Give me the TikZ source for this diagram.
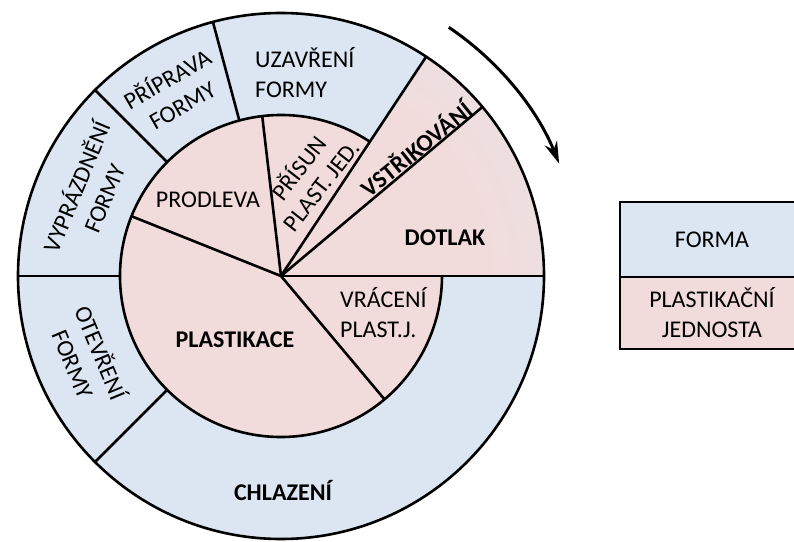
\documentclass[tikz,border=0pt]{standalone}
\usepackage{fontspec}
\setmainfont{Carlito}
\usetikzlibrary{arrows.meta}
\definecolor{formblue}{HTML}{DCE6F2}
\definecolor{plastpink}{HTML}{F2DCDB}
\pgfdeclareradialshading{wedgeshade}{\pgfpoint{0bp}{0bp}}{color(0bp)=(plastpink); color(19bp)=(plastpink); color(44bp)=(formblue); color(50bp)=(formblue)}

\begin{document}
\begin{tikzpicture}[x=1pt, y=1pt,
    lbl/.style={font=\fontsize{24}{30}\selectfont, align=center, inner sep=0pt},
    boldlbl/.style={lbl, font=\fontsize{24}{30}\selectfont\bfseries},
    divider/.style={line width=2.6pt},
    legendbox/.style={draw, line width=2.6pt}]
    \useasboundingbox (-281,-265) rectangle (513,276);

    % Rings
    \fill[formblue] (0,0) circle (263);
    \fill[plastpink] (0,0) circle (161);

    % Injection and holding pressure wedge
    \begin{scope}
      \clip (0,0) -- (0:263) arc (0:56.5:263) -- cycle;
      \shade[shading=wedgeshade] (0,0) circle (263);
    \end{scope}

    % Outlines
    \draw[divider] (0,0) circle (263);
    \draw[divider] (56.5:161) arc (56.5:360:161);

    % Form ring dividers
    \foreach \a in {105,135,180,225}
      \draw[divider] (\a:161) -- (\a:263);

    % Dividers from the centre
    \foreach \a in {0,40,56.5}
      \draw[divider] (0,0) -- (\a:263);
    \foreach \a in {96.7,158.2,-50}
      \draw[divider] (0,0) -- (\a:161);

    % Form phases
    \node[lbl, align=left, anchor=west] (uzavreni) at (-26,203.5) {UZAVŘENÍ\\FORMY};
    \node[lbl, rotate=30] (priprava) at (-107,185) {PŘÍPRAVA\\FORMY};
    \node[lbl, rotate=67.5] (vyprazdneni) at (-192,84) {VYPRÁZDNĚNÍ\\FORMY};
    \node[lbl, rotate=-67.5] (otevreni) at (-193,-82) {OTEVŘENÍ\\FORMY};
    \node[boldlbl] (chlazeni) at (2,-214) {CHLAZENÍ};

    % Plasticising unit phases
    \node[boldlbl] (plastikace) at (-46,-64) {PLASTIKACE};
    \node[lbl, align=left, anchor=west] (vraceni) at (59,-37) {VRÁCENÍ\\PLAST.J.};
    \node[boldlbl] (dotlak) at (164,38) {DOTLAK};
    \node[boldlbl, rotate=39] (vstrikovani) at (43.5:186) {VSTŘIKOVÁNÍ};
    \node[lbl, rotate=52, font=\fontsize{24}{28}\selectfont] (prisun) at (28,100) {PŘÍSUN\\PLAST. JED.};
    \node[lbl] (prodleva) at (-73,76) {PRODLEVA};

    % Cycle direction
    \draw[line width=3pt, -{Stealth[length=22pt, width=13pt]}] (56:300) arc (56:22:300);

    % Legend
    \draw[legendbox, fill=formblue] (339,74) rectangle (540,-1);
    \draw[legendbox, fill=plastpink] (339,-1) rectangle (540,-73);
    \node[lbl] (legform) at (431,36.5) {FORMA};
    \node[lbl] (legplast) at (431,-37) {PLASTIKAČNÍ\\JEDNOSTA};
\end{tikzpicture}
\end{document}
